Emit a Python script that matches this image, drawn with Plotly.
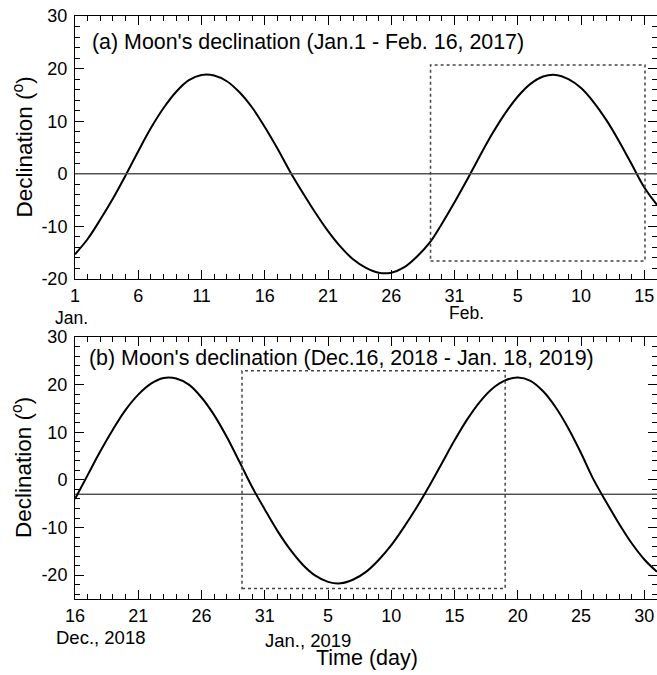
import plotly.graph_objects as go

# ---------------- data ----------------
# Panel (a): day of year 2017 (1 = Jan 1, 32 = Feb 1)
top_days = list(range(1, 48))
top_decl = [-15.3, -12.4, -8.7, -4.7, -0.3, 4.3, 8.7, 12.5, 15.6, 17.8,
            18.8, 18.7, 17.6, 15.5, 12.6, 8.9, 4.8, 0.4, -3.6, -7.4,
            -10.9, -13.9, -16.3, -17.9, -18.8, -18.8, -17.8, -15.8, -13.2, -9.5,
            -5.4, -1.1, 3.4, 7.7, 11.5, 14.7, 17.1, 18.5, 18.8, 18.0,
            16.3, 13.6, 10.2, 6.2, 1.8, -2.6, -5.9]
top_tickvals = [1, 6, 11, 16, 21, 26, 31, 36, 41, 46]
top_ticktext = ["1", "6", "11", "16", "21", "26", "31", "5", "10", "15"]
top_ytickvals = [-20, -10, 0, 10, 20, 30]
top_yticktext = ["-20", "-10", "0", "10", "20", "30"]
top_ref_level = 0
top_box_x = [29.1, 46.05]
top_box_y = [-16.6, 20.7]

# Panel (b): days after Dec 16, 2018
bot_days = list(range(0, 47))
bot_decl = [-4.0, 1.0, 6.0, 10.6, 14.7, 17.9, 20.2, 21.4, 21.3, 20.0,
            17.3, 13.6, 9.0, 3.8, -1.5, -6.2, -10.7, -14.6, -17.8, -20.1,
            -21.4, -21.7, -20.9, -19.3, -16.8, -13.7, -9.9, -5.8, -1.3, 3.5,
            8.3, 12.7, 16.4, 19.2, 20.9, 21.5, 20.8, 18.6, 15.2, 10.8,
            5.6, 0.0, -4.7, -9.2, -13.3, -16.7, -19.3]
bot_tickvals = [0, 5, 10, 15, 20, 25, 30, 35, 40, 45]
bot_ticktext = ["16", "21", "26", "31", "5", "10", "15", "20", "25", "30"]
bot_ytickvals = [-20, -10, 0, 10, 20, 30]
bot_yticktext = ["-20", "-10", "0", "10", "20", "30"]
bot_ref_level = -3
bot_box_x = [13.2, 34.0]
bot_box_y = [-22.8, 22.9]

title_a = "(a) Moon's declination (Jan.1 - Feb. 16, 2017)"
title_b = "(b) Moon's declination (Dec.16, 2018 - Jan. 18, 2019)"
ytitle = "Declination (<sup>o</sup>)"
xtitle = "Time (day)"

# ---------------- layout ----------------
W, H = 657, 675
FONT = "Liberation Sans, Arial, sans-serif"


def px(x):
    return x / W


def py(y):
    return 1 - y / H


fig = go.Figure()
fig.add_trace(go.Scatter(x=top_days, y=top_decl, mode="lines",
                         line=dict(color="black", width=2, shape="spline"),
                         xaxis="x", yaxis="y", showlegend=False))
fig.add_trace(go.Scatter(x=bot_days, y=bot_decl, mode="lines",
                         line=dict(color="black", width=2, shape="spline"),
                         xaxis="x2", yaxis="y2", showlegend=False))

common = dict(showline=True, linecolor="black", linewidth=1, mirror="ticks",
              ticks="inside", ticklen=9, tickwidth=1, tickcolor="black",
              showgrid=False, zeroline=False, automargin=False, tickmode="array",
              tickfont=dict(family=FONT, size=18, color="black"))
minor_x = dict(ticks="inside", ticklen=5, tickwidth=1, tickcolor="black", dtick=1, tick0=0)
minor_y = dict(ticks="inside", ticklen=5, tickwidth=1, tickcolor="black", dtick=2, tick0=0)

xdom = [px(75), 1.0]
fig.update_layout(
    width=W, height=H,
    margin=dict(l=0, r=0, t=0, b=0, autoexpand=False),
    paper_bgcolor="white", plot_bgcolor="white",
    font=dict(family=FONT, color="black"),
    xaxis=dict(domain=xdom, anchor="y", range=[1, 47],
               tickvals=top_tickvals, ticktext=top_ticktext, minor=minor_x, **common),
    yaxis=dict(domain=[py(279), py(16)], anchor="x", range=[-20, 30],
               tickvals=top_ytickvals, ticktext=top_yticktext,
               ticklabelstandoff=3, minor=minor_y, **common),
    xaxis2=dict(domain=xdom, anchor="y2", range=[0, 46],
                tickvals=bot_tickvals, ticktext=bot_ticktext, minor=minor_x, **common),
    yaxis2=dict(domain=[py(599), py(337)], anchor="x2", range=[-25, 30],
                tickvals=bot_ytickvals, ticktext=bot_yticktext,
                ticklabelstandoff=3, minor=minor_y, **common),
)

# reference lines
fig.add_shape(type="line", xref="x domain", yref="y", x0=0, x1=1,
              y0=top_ref_level, y1=top_ref_level, line=dict(color="#555555", width=1.5))
fig.add_shape(type="line", xref="x2 domain", yref="y2", x0=0, x1=1,
              y0=bot_ref_level, y1=bot_ref_level, line=dict(color="black", width=1))

# dotted boxes
fig.add_shape(type="rect", xref="x", yref="y", x0=top_box_x[0], x1=top_box_x[1],
              y0=top_box_y[0], y1=top_box_y[1],
              line=dict(color="#444444", width=1.5, dash="dot"))
fig.add_shape(type="rect", xref="x2", yref="y2", x0=bot_box_x[0], x1=bot_box_x[1],
              y0=bot_box_y[0], y1=bot_box_y[1],
              line=dict(color="#444444", width=1.5, dash="dot"))

ann = []


def add_text(text, x, y, size, xanchor="center", yanchor="middle", angle=0):
    ann.append(dict(text=text, x=px(x), y=py(y), xref="paper", yref="paper",
                    xanchor=xanchor, yanchor=yanchor, showarrow=False,
                    textangle=angle, font=dict(family=FONT, size=size, color="black")))


add_text(title_a, 90, 42, 21.4, xanchor="left")
add_text(title_b, 87, 358, 21.4, xanchor="left")
add_text(ytitle, 22, 147.5, 22.5, angle=-90)
add_text(ytitle, 22, 468, 22.5, angle=-90)
add_text("Jan.", 71, 318, 17.5)
add_text("Feb.", 466, 313, 17.5)
add_text("Dec., 2018", 100, 637, 18.5)
add_text("Jan., 2019", 308, 640, 18.5)
add_text(xtitle, 367, 658, 21.5)
fig.update_layout(annotations=ann)

fig.write_html("out.html", config={"displayModeBar": False},
               post_script="document.body.style.margin='0';document.body.style.overflow='hidden';")
